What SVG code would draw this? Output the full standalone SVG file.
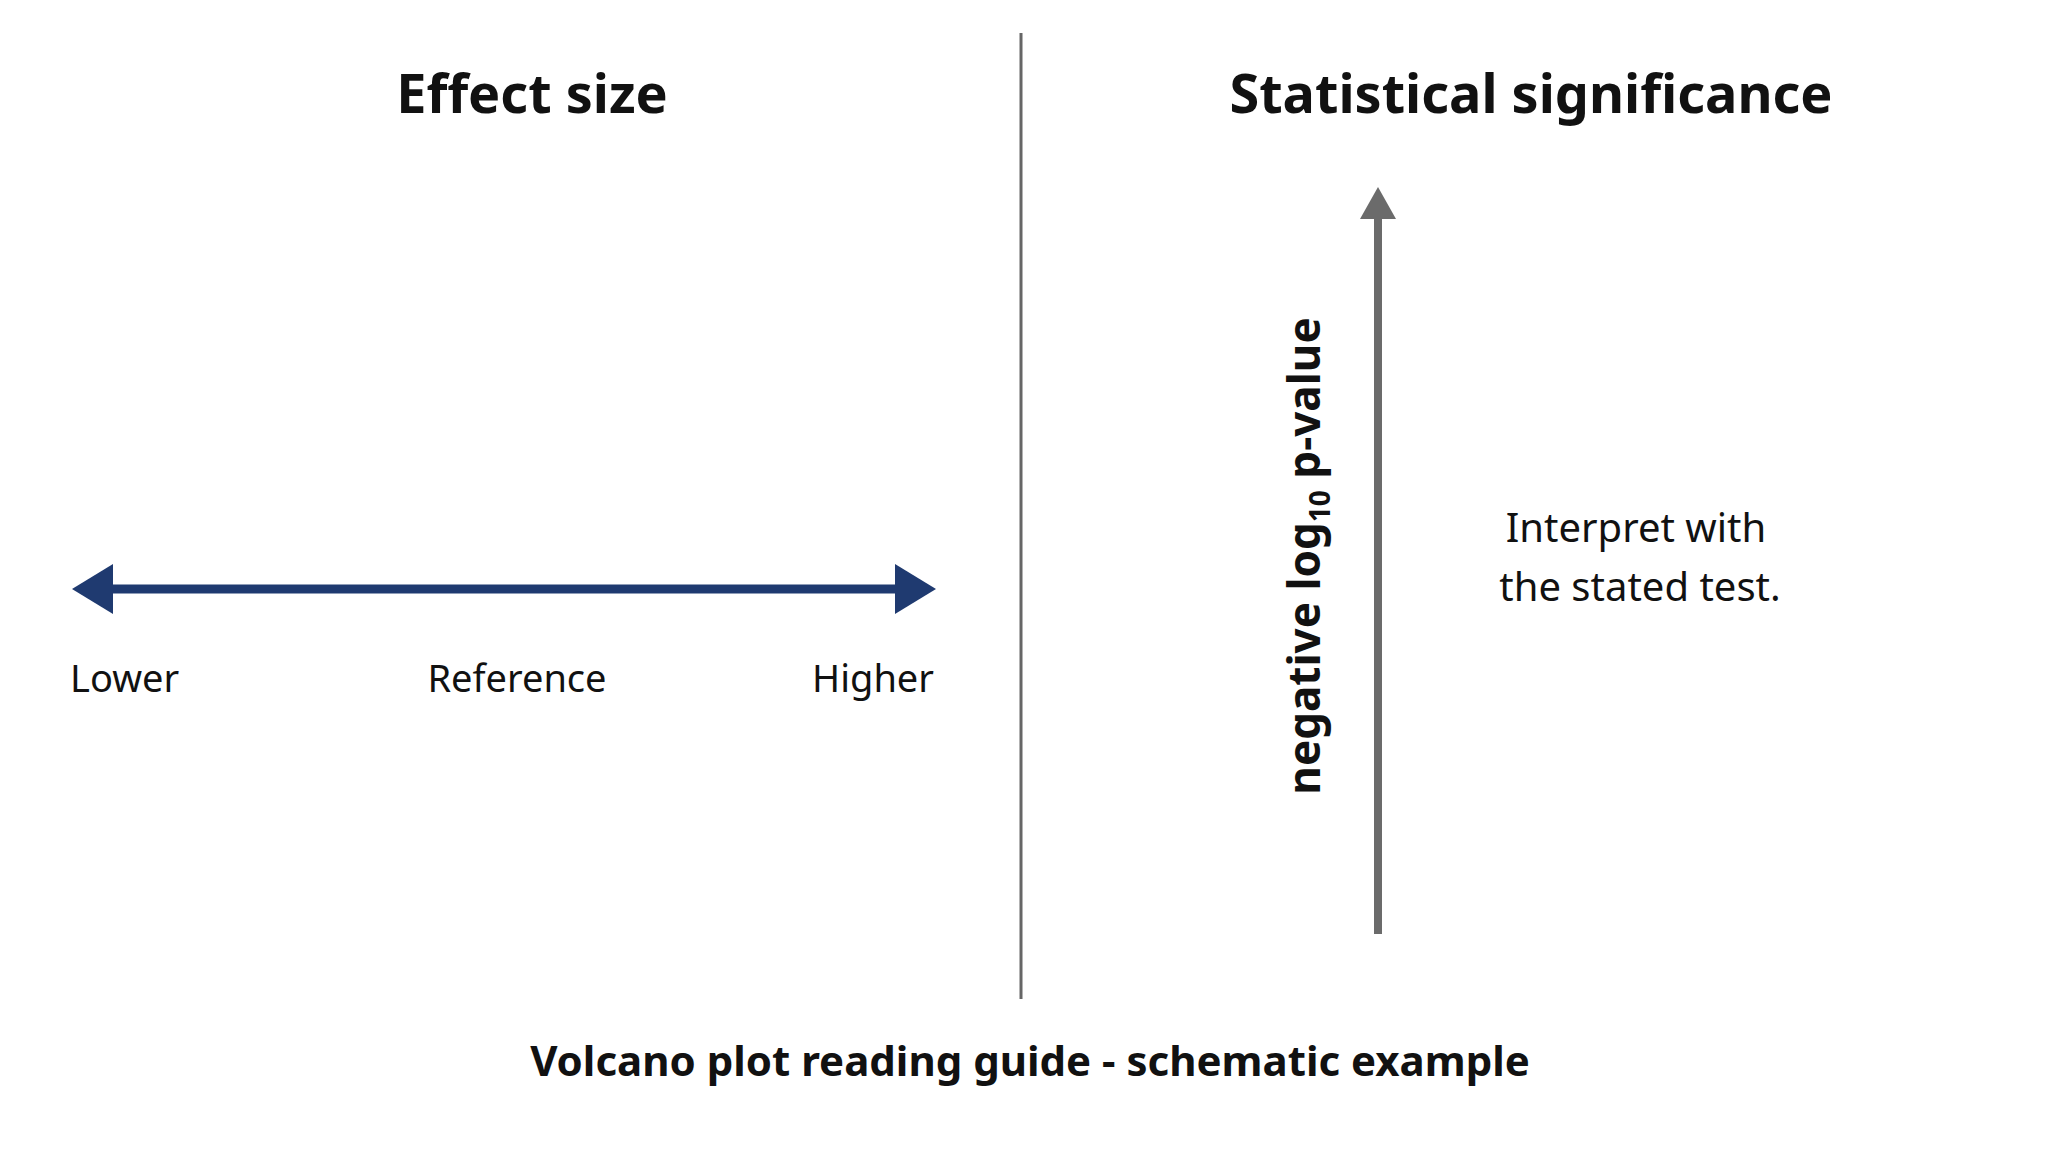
<svg xmlns="http://www.w3.org/2000/svg" width="2048" height="1152" viewBox="0 0 2048 1152">
<style>
text{font-family:"Noto Sans","Liberation Sans",sans-serif;fill:#111}
.h{font-size:54px;font-weight:bold;text-anchor:middle}
.l{font-size:38px}
.r{font-size:40px;text-anchor:middle}
</style>
<rect width="2048" height="1152" fill="#fff"/>
<line x1="1021" y1="33" x2="1021" y2="999" stroke="#666" stroke-width="3"/>
<g id="effect-size">
<text class="h" x="532" y="113">Effect size</text>
<text class="l" x="70" y="692">Lower</text>
<text class="l" x="517" y="692" text-anchor="middle">Reference</text>
<text class="l" x="934" y="692" text-anchor="end">Higher</text>
</g>
<g id="significance">
<text class="h" x="1531" y="113">Statistical significance</text>
<text font-size="44" font-weight="bold" text-anchor="middle" transform="translate(1320,556) rotate(-90)">negative log<tspan font-size="28" dy="10">10</tspan><tspan dy="-10"> p-value</tspan></text>
<text class="r" x="1636" y="542">Interpret with</text>
<text class="r" x="1640" y="601">the stated test.</text>
</g>
<g id="connectors">
<line x1="110" y1="589" x2="898" y2="589" stroke="#1f3a70" stroke-width="9"/>
<polygon points="72,589 113,564 113,614" fill="#1f3a70"/>
<polygon points="936,589 895,564 895,614" fill="#1f3a70"/>
<line x1="1378" y1="934" x2="1378" y2="215" stroke="#6b6b6b" stroke-width="8"/>
<polygon points="1378,187 1360,219 1396,219" fill="#6b6b6b"/>
</g>
<text id="caption" class="h" style="font-size:42px" x="1030" y="1076">Volcano plot reading guide - schematic example</text>
</svg>
